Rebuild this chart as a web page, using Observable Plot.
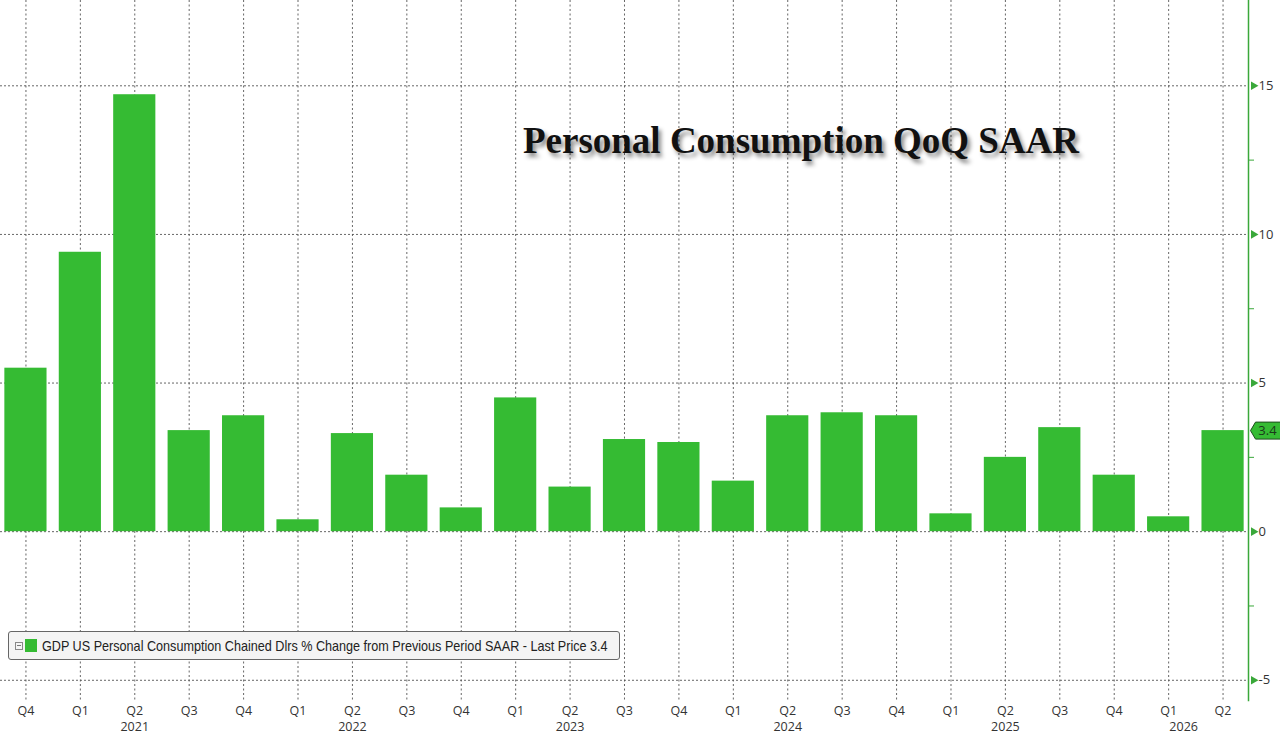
<!DOCTYPE html>
<html>
<head>
<meta charset="utf-8">
<script src="https://cdn.jsdelivr.net/npm/d3@7"></script>
<script src="https://cdn.jsdelivr.net/npm/@observablehq/plot@0.6"></script>
<style>
  html, body { margin: 0; padding: 0; background: #fff; }
  #wrap { position: relative; width: 1280px; height: 735px; overflow: hidden; }
  #title {
    position: absolute; left: 0; width: 1602px; top: 119px; text-align: center;
    font-family: "Liberation Serif", "Times New Roman", serif; font-weight: bold;
    font-size: 37px; color: #111; white-space: nowrap;
    text-shadow: 3px 4px 4px rgba(0,0,0,0.45);
  }
  #legend {
    position: absolute; left: 8px; top: 631px; width: 612px; height: 29px;
    box-sizing: border-box; border: 1px solid #666; border-radius: 3px;
    background: #f4f4f4; display: flex; align-items: center; overflow: hidden;
    font-family: "Liberation Sans", Arial, sans-serif;
    font-size: 14.5px; color: #222; white-space: nowrap;
  }
  #legend span { display: inline-block; flex-shrink: 0; transform: scaleX(0.87); transform-origin: left center; }
  #legend .box { position: relative; flex-shrink: 0; width: 6px; height: 6px; border: 1px solid #888; margin-left: 6px; }
  #legend .box::after { content: ""; position: absolute; left: 1px; top: 2.5px; width: 4px; height: 1px; background: #777; }
  #legend .sw { flex-shrink: 0; width: 12px; height: 13px; background: #35bb33; margin-left: 2px; margin-right: 5px; }
</style>
</head>
<body>
<div id="wrap">
  <div id="chart"></div>
  <div id="title">Personal Consumption QoQ SAAR</div>
  <div id="legend"><div class="box"></div><div class="sw"></div><span>GDP US Personal Consumption Chained Dlrs % Change from Previous Period SAAR - Last Price 3.4</span></div>
</div>
<script>
// ---- data ----
const periods = ["2020 Q4","2021 Q1","2021 Q2","2021 Q3","2021 Q4","2022 Q1","2022 Q2","2022 Q3","2022 Q4",
  "2023 Q1","2023 Q2","2023 Q3","2023 Q4","2024 Q1","2024 Q2","2024 Q3","2024 Q4",
  "2025 Q1","2025 Q2","2025 Q3","2025 Q4","2026 Q1","2026 Q2"];
const values = [5.5, 9.4, 14.7, 3.4, 3.9, 0.4, 3.3, 1.9, 0.8,
  4.5, 1.5, 3.1, 3.0, 1.7, 3.9, 4.0, 3.9,
  0.6, 2.5, 3.5, 1.9, 0.5, 3.4];
const yearLabels = ["2021","2022","2023","2024","2025"];
const yearAnchors = ["2021 Q2","2022 Q2","2023 Q2","2024 Q2","2025 Q2"];
const lastYearLabel = "2026";
const lastYearAnchor = "2026 Q1";
const majorTicks = [-5, 0, 5, 10, 15];
const minorTicks = [-2.5, 2.5, 7.5, 12.5];
const lastValue = 3.4;

const data = periods.map((p, i) => ({period: p, value: values[i]}));
const years = yearLabels.map((y, i) => ({year: y, anchor: yearAnchors[i]}));

const green = "#35bb33";
const axisGreen = "#3aa83a";
const font = "'Open Sans', 'Liberation Sans', sans-serif";

const tagSymbol = {
  draw(ctx) {
    ctx.moveTo(-15, 0);
    ctx.lineTo(-10, -8.5);
    ctx.lineTo(20, -8.5);
    ctx.lineTo(20, 8.5);
    ctx.lineTo(-10, 8.5);
    ctx.closePath();
  }
};

const chart = Plot.plot({
  width: 1280,
  height: 735,
  marginTop: 0,
  marginBottom: 35,
  marginLeft: 0,
  marginRight: 32,
  style: {fontFamily: font, fontSize: "13px", color: "#333", background: "#fff"},
  x: {type: "band", domain: periods, paddingInner: 0.225, paddingOuter: 0.08, round: false, axis: null},
  y: {domain: [-5.68, 17.87], axis: null, label: null},
  marks: [
    Plot.gridY(majorTicks, {stroke: "#555", strokeOpacity: 0.9, strokeDasharray: "2,2"}),
    Plot.gridX(periods, {stroke: "#555", strokeOpacity: 0.9, strokeDasharray: "2,2.5"}),
    Plot.barY(data, {x: "period", y: "value", fill: green}),
    Plot.frame({anchor: "right", stroke: axisGreen, strokeWidth: 1.5}),
    Plot.dot(majorTicks, {y: d => d, frameAnchor: "right", dx: 5, symbol: "triangle", rotate: 90, r: 3.2, fill: axisGreen, stroke: null}),
    Plot.axisY({anchor: "right", ticks: minorTicks, tickSize: 5, tickFormat: () => "", stroke: axisGreen, label: null}),
    Plot.axisY({anchor: "right", ticks: majorTicks, tickSize: 0, tickPadding: 10, tickFormat: d => String(d), fontSize: 13, fill: "#333", label: null}),
    Plot.dot([lastValue], {y: d => d, frameAnchor: "right", dx: 17, symbol: tagSymbol, fill: green, stroke: "#1d4d1d", strokeWidth: 1}),
    Plot.text([lastValue], {y: d => d, frameAnchor: "right", dx: 19, textAnchor: "middle", lineAnchor: "middle", text: d => d.toFixed(1), fill: "#1a3a1a", fontSize: 13}),
    Plot.text(periods, {x: d => d, frameAnchor: "bottom", lineAnchor: "middle", dy: 10.5, text: d => d.split(" ")[1], fill: "#333", fontSize: 12.5}),
    Plot.text(years, {x: "anchor", frameAnchor: "bottom", lineAnchor: "middle", dy: 26.5, text: "year", fill: "#333", fontSize: 12.5}),
    Plot.text([lastYearLabel], {x: () => lastYearAnchor, frameAnchor: "bottom", lineAnchor: "middle", dy: 26.5, dx: 15, text: d => d, fill: "#333", fontSize: 12.5})
  ]
});
document.getElementById("chart").appendChild(chart);
</script>
</body>
</html>
